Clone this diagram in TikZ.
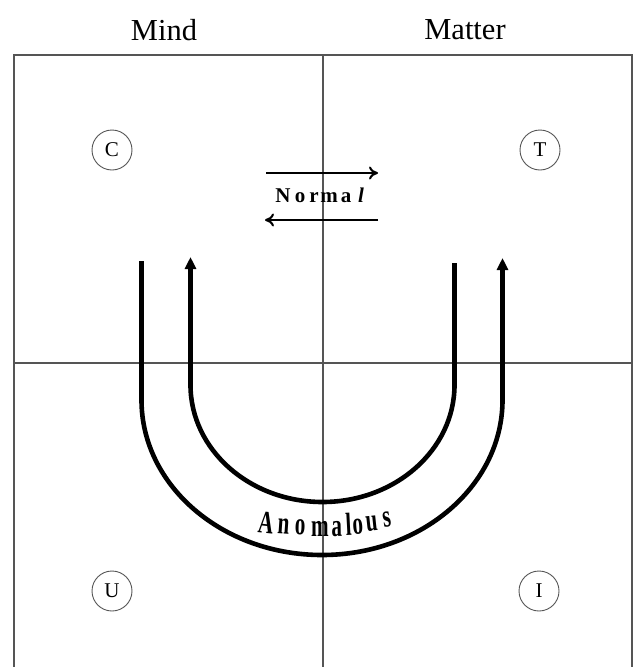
\documentclass[tikz,border=0pt]{standalone}
\usepackage{fontspec}
\setmainfont{Liberation Serif}
\usetikzlibrary{arrows.meta}

\tikzset{
    quadrant/.style={draw=frameColour, circle, line width=0.9pt, minimum size=40pt, inner sep=0pt, font=\fontsize{21}{21}\selectfont},
    heading/.style={font=\fontsize{30.5}{30.5}\selectfont},
    flowline/.style={line width=4.6pt},
    normalarrow/.style={line width=2.2pt, -{To[length=9pt, width=13pt, line width=2pt]}},
    normalletter/.style={anchor=base, inner sep=0pt, font=\bfseries\fontsize{21}{21}\selectfont},
    anomletter/.style={anchor=base, inner sep=0pt, font=\bfseries\fontsize{32}{32}\selectfont}
}

\begin{document}
\begin{tikzpicture}[x=1pt, y=-1pt]
    \def\frameTop{55}
    \def\frameBottom{667}

    \definecolor{frameColour}{HTML}{555555}

    \useasboundingbox (0,0) rectangle (634,667);

    % Draw frame and quadrant lines
    \draw[frameColour, line width=1.3pt] (14,\frameBottom) -- (14,\frameTop) -- (632,\frameTop) -- (632,\frameBottom);
    \draw[frameColour, line width=1.3pt] (323,\frameTop) -- (323,\frameBottom);
    \draw[frameColour, line width=1.3pt] (14,363) -- (632,363);

    % Headings
    \node[heading] (mind) at (164,30) {Mind};
    \node[heading] (matter) at (465,30) {Matter};

    % Quadrant labels
    \node[quadrant] (C) at (112,150) {C};
    \node[quadrant] (T) at (540,150) {T};
    \node[quadrant] (U) at (112,591) {U};
    \node[quadrant] (I) at (539,591) {I};

    % Normal flow
    \coordinate (N1) at (266,173);
    \coordinate (N2) at (378,173);
    \coordinate (N3) at (378,220);
    \coordinate (N4) at (265,220);
    \draw[normalarrow] (N1) -- (N2);
    \draw[normalarrow] (N3) -- (N4);
    \foreach \ch/\x [count=\i] in {N/283, o/300, r/314, m/329, a/346, \textit{l}/361}
        \node[normalletter] (nl\i) at (\x,202) {\ch};

    % Inner U
    \draw[flowline, -{Triangle[length=12pt, width=11pt]}] (454.5,263) -- (454.5,385)
        arc[start angle=0, end angle=180, x radius=132, y radius=117] -- (190.5,257);

    % Outer U
    \draw[flowline, -{Triangle[length=12pt, width=11pt]}] (141.5,261) -- (141.5,400)
        arc[start angle=180, end angle=0, x radius=180.5, y radius=155] -- (502.5,258);

    % Anomalous flow
    \foreach \ch/\x/\y/\r [count=\i] in {A/265/533/-6, n/283/534/-4, o/300/535/-2, m/320/536/0, a/337/536/1, l/349/535/3, o/358.5/534/4, u/372.5/531/6, s/388/527/9}
        \node[anomletter, rotate=\r] (al\i) at (\x,\y) {\scalebox{0.66}[1]{\ch}};
\end{tikzpicture}
\end{document}
